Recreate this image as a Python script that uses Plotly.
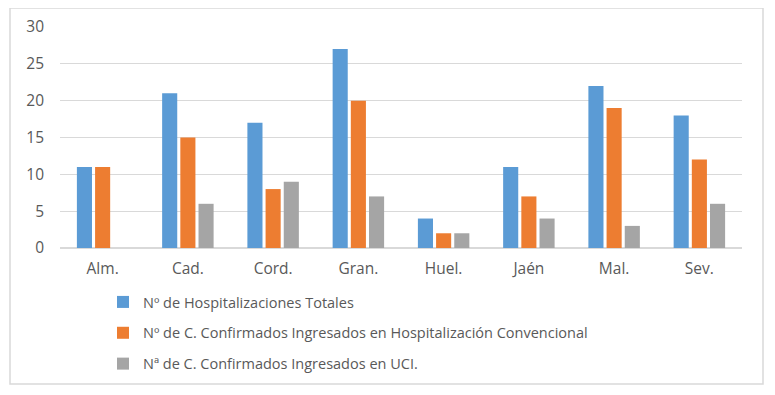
import plotly.graph_objects as go

categories = ["Alm.", "Cad.", "Cord.", "Gran.", "Huel.", "Jaén", "Mal.", "Sev."]
hosp_totales = [11, 21, 17, 27, 4, 11, 22, 18]
hosp_convencional = [11, 15, 8, 20, 2, 7, 19, 12]
uci = [0, 6, 9, 7, 2, 4, 3, 6]
series_names = [
    "Nº de Hospitalizaciones Totales",
    "Nº de C. Confirmados Ingresados en Hospitalización Convencional",
    "Nª de C. Confirmados Ingresados en UCI.",
]
colors = ["#5B9BD5", "#ED7D31", "#A5A5A5"]
y_ticks = [0, 5, 10, 15, 20, 25, 30]

# page body has an 8px default margin; figure drawn in the remaining area
OFF = 8
W, H = 775 - OFF, 395 - OFF
L, R, T, B = 60 - OFF, 33, 27 - OFF, 147

fig = go.Figure()
for i, (name, vals) in enumerate(zip(series_names, [hosp_totales, hosp_convencional, uci])):
    fig.add_trace(go.Bar(x=categories, y=vals, name=name, marker_color=colors[i],
                         marker_line_width=0, legendgroup=f"g{i}"))

pw = W - L - R
ph = H - T - B
def px_x(p):
    return (p - OFF - L) / pw
def px_y(p):
    return (H - B - (p - OFF)) / ph

fig.update_layout(
    width=W, height=H,
    margin=dict(l=L, r=R, t=T, b=B, autoexpand=False),
    paper_bgcolor="white", plot_bgcolor="white",
    barmode="group", bargap=0.36, bargroupgap=0.17,
    font=dict(family="Open Sans", size=14, color="#595959"),
    showlegend=True,
    legend=dict(orientation="v", x=px_x(103), y=px_y(286), xanchor="left", yanchor="top",
                font=dict(size=14.5, color="#595959"), tracegroupgap=9,
                itemwidth=30, bgcolor="rgba(0,0,0,0)"),
    xaxis=dict(showgrid=False, showline=False, ticks="", ticklabelstandoff=9,
               tickfont=dict(size=15.5, color="#595959")),
    yaxis=dict(range=[0, 30], tickvals=y_ticks, showgrid=True, gridcolor="#D9D9D9", gridwidth=1,
               zeroline=True, zerolinecolor="#D9D9D9", showline=False, ticks="",
               ticklabelstandoff=15, tickfont=dict(size=15.5, color="#595959")),
    shapes=[dict(type="rect", xref="paper", yref="paper",
                 x0=px_x(10), x1=px_x(763), y0=px_y(384), y1=px_y(8),
                 line=dict(color="#D9D9D9", width=1.5), fillcolor="rgba(0,0,0,0)", layer="below")],
)

fig.write_html("out.html")
